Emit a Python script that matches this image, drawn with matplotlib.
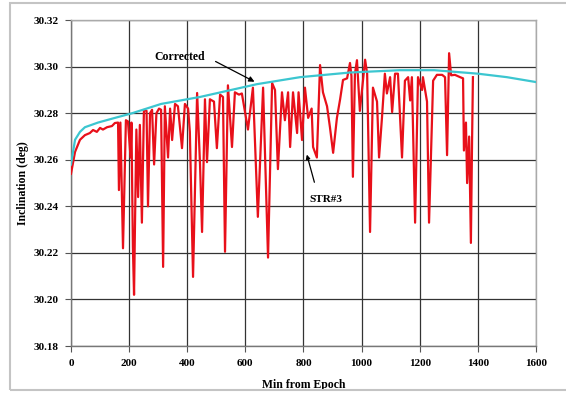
import matplotlib
matplotlib.use("Agg")
import matplotlib.pyplot as plt
from matplotlib.patches import Rectangle

# Corrected (smooth) series
corr_t = [0, 14, 31, 48, 93, 151, 210, 310, 444, 640, 788, 960, 1132, 1250, 1400, 1500, 1600]
corr_v = [30.258, 30.2686, 30.272, 30.274, 30.276, 30.278, 30.280, 30.284, 30.287, 30.2925,
          30.2955, 30.2975, 30.2985, 30.2985, 30.297, 30.2955, 30.2934]

# STR#3 series
str_t = [0, 14, 31, 48, 65, 76, 89, 100, 110, 124, 141, 151, 162, 165, 170, 179, 189, 196, 205, 208,
         213, 217, 220, 225, 231, 237, 244, 251, 260, 265, 272, 279, 286, 294, 303, 310, 317, 323, 334, 341,
         348, 358, 368, 382, 392, 403, 409, 420, 434, 444, 451, 461, 468, 478, 492, 502, 513, 523, 530, 540,
         554, 564, 578, 588, 609, 626, 643, 661, 678, 692, 702, 712, 726, 736, 747, 754, 764, 778, 783, 795,
         805, 816, 828, 833, 846, 857, 867, 881, 891, 902, 915, 926, 936, 950, 960, 965, 970, 977, 984, 994,
         1012, 1019, 1029, 1039, 1053, 1060, 1070, 1080, 1087, 1098, 1105, 1115, 1125, 1139, 1149, 1160, 1167,
         1173, 1184, 1194, 1208, 1211, 1225, 1232, 1246, 1259, 1277, 1287, 1294, 1301, 1308, 1321, 1339, 1349,
         1352, 1359, 1363, 1370, 1376, 1380, 1383]
str_v = [30.254, 30.2634, 30.2686, 30.2706, 30.2715, 30.2728, 30.272, 30.2737, 30.273, 30.274, 30.2745,
         30.2758, 30.276, 30.247, 30.276, 30.222, 30.277, 30.2765, 30.261, 30.276,
         30.2226, 30.202, 30.230, 30.273, 30.244, 30.275, 30.233, 30.2814, 30.281, 30.240, 30.280, 30.2815,
         30.258, 30.280, 30.282, 30.2815, 30.214, 30.283, 30.261, 30.282,
         30.2685, 30.284, 30.283, 30.265, 30.284, 30.282, 30.272, 30.2097, 30.2887, 30.258, 30.229, 30.286,
         30.259, 30.286, 30.285, 30.265, 30.288, 30.287, 30.2205, 30.292,
         30.2655, 30.289, 30.288, 30.2885, 30.273, 30.291, 30.2355, 30.291, 30.218, 30.293, 30.290, 30.256,
         30.289, 30.277, 30.289, 30.2655, 30.289, 30.2715, 30.289, 30.2685,
         30.291, 30.278, 30.282, 30.2655, 30.261, 30.3007, 30.289, 30.283, 30.274, 30.263, 30.278, 30.286,
         30.2943, 30.295, 30.3016, 30.296, 30.2527, 30.297, 30.3028, 30.281,
         30.303, 30.297, 30.229, 30.291, 30.285, 30.261, 30.278, 30.297, 30.2885, 30.2955, 30.2805, 30.297,
         30.297, 30.261, 30.294, 30.2955, 30.2855,
         30.2955, 30.233, 30.2955, 30.290, 30.2955, 30.285, 30.233, 30.294, 30.2965, 30.2965, 30.2955, 30.262,
         30.3058, 30.2963, 30.2965, 30.2955, 30.295,
         30.264, 30.276, 30.250, 30.270, 30.2243, 30.268, 30.2955]

x_ticks = [0, 200, 400, 600, 800, 1000, 1200, 1400, 1600]
y_ticks = [30.18, 30.20, 30.22, 30.24, 30.26, 30.28, 30.30, 30.32]

serif = ["Liberation Serif", "DejaVu Serif"]

fig = plt.figure(figsize=(5.66, 3.95), dpi=100)
fig.patch.set_facecolor("white")
fig.patches.append(Rectangle((0.0177, 0.0127), 0.99, 0.979, transform=fig.transFigure,
                             fill=False, edgecolor="#c4c4c4", lw=1.5))
ax = fig.add_axes([0.1254, 0.124, 0.8216, 0.825])

ax.plot(str_t, str_v, color="#e8101a", lw=1.6, zorder=3)
ax.plot(corr_t, corr_v, color="#3cc6d0", lw=1.6, zorder=4)

ax.set_xlim(0, 1600)
ax.set_ylim(30.18, 30.32)
ax.set_xticks(x_ticks)
ax.set_yticks(y_ticks)
ax.set_xticklabels([str(v) for v in x_ticks], fontfamily=serif, fontweight="bold", fontsize=8)
ax.set_yticklabels(["%.2f" % v for v in y_ticks], fontfamily=serif, fontweight="bold", fontsize=8)
ax.tick_params(direction="out", length=4, width=0.8, color="#555555", pad=5)
ax.grid(True, color="#333333", lw=0.9)
ax.set_axisbelow(True)
for s in ["left", "bottom"]:
    ax.spines[s].set_color("#777777")
    ax.spines[s].set_linewidth(1.0)
for s in ["top", "right"]:
    ax.spines[s].set_color("#aaaaaa")
    ax.spines[s].set_linewidth(1.0)

ax.set_xlabel("Min from Epoch", fontfamily=serif, fontweight="bold", fontsize=8.5, labelpad=8)
ax.set_ylabel("Inclination (deg)", fontfamily=serif, fontweight="bold", fontsize=8.5, labelpad=3)

ax.text(375, 30.3041, "Corrected", ha="center", va="center", fontfamily=serif,
        fontweight="bold", fontsize=8.5, zorder=6)
ax.annotate("", xy=(640, 30.293), xytext=(489, 30.3028),
            arrowprops=dict(arrowstyle="-|>", color="black", lw=0.9, mutation_scale=8), zorder=6)
ax.text(877, 30.2428, "STR#3", ha="center", va="center", fontfamily=serif,
        fontweight="bold", fontsize=8, zorder=6)
ax.annotate("", xy=(809, 30.2634), xytext=(840, 30.2492),
            arrowprops=dict(arrowstyle="-|>", color="black", lw=0.9, mutation_scale=6), zorder=6)

fig.savefig("out.png", dpi=100, facecolor="white")
